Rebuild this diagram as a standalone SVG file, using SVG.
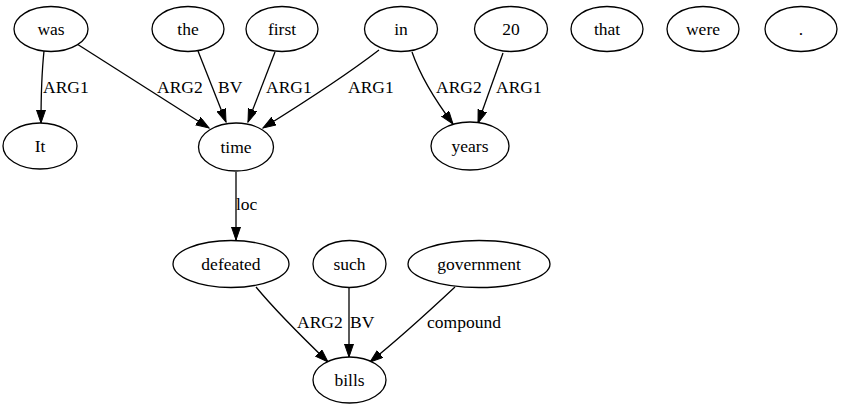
<svg xmlns="http://www.w3.org/2000/svg" width="843" height="411" viewBox="0 0 843 411">
<style>
.n ellipse{fill:#fff;stroke:#000;stroke-width:1.3}
.n text{font-family:'Liberation Serif',serif;font-size:17.5px;text-anchor:middle;fill:#000}
.e path{fill:none;stroke:#000;stroke-width:1.3;marker-end:url(#ah)}
.e text{font-family:'Liberation Serif',serif;font-size:17.5px;fill:#000}
</style>
<defs>
<marker id="ah" markerUnits="userSpaceOnUse" markerWidth="14" markerHeight="10" refX="13" refY="4.5" orient="auto">
<path d="M0,0 L13,4.5 L0,9 z" fill="#000" stroke="#000" stroke-width="1"/>
</marker>
</defs>
<rect width="843" height="411" fill="#fff"/>
<g id="edges" class="e">
<path d="M44,51 C42,70 41,92 41,123"/>
<text x="43" y="93">ARG1</text>
<path d="M77,44 L209,128"/>
<text x="157" y="93">ARG2</text>
<path d="M198,51 L226,122"/>
<text x="218" y="93">BV</text>
<path d="M275,52 L248,122"/>
<text x="266" y="93">ARG1</text>
<path d="M379,50 C340,80 300,105 263,128"/>
<text x="348" y="93">ARG1</text>
<path d="M412,52 C420,75 435,100 453,124"/>
<text x="436" y="93">ARG2</text>
<path d="M503,53 L478,123"/>
<text x="496" y="93">ARG1</text>
<path d="M236,172 L236,240"/>
<text x="236" y="210">loc</text>
<path d="M256,287 C275,310 300,335 328,362"/>
<text x="297" y="328">ARG2</text>
<path d="M349,287 L349,357"/>
<text x="350" y="328">BV</text>
<path d="M455,287 C425,315 400,338 370,362"/>
<text x="427" y="328">compound</text>
</g>
<g id="was" class="n"><ellipse cx="51" cy="29" rx="37" ry="22.5"/><text x="51" y="35">was</text></g>
<g id="the" class="n"><ellipse cx="188" cy="29" rx="36" ry="22.5"/><text x="188" y="35">the</text></g>
<g id="first" class="n"><ellipse cx="282" cy="29" rx="36" ry="22.5"/><text x="282" y="35">first</text></g>
<g id="in" class="n"><ellipse cx="401" cy="29" rx="36.5" ry="22.5"/><text x="401" y="35">in</text></g>
<g id="n20" class="n"><ellipse cx="511" cy="29" rx="36.5" ry="22.5"/><text x="511" y="35">20</text></g>
<g id="that" class="n"><ellipse cx="607" cy="29" rx="36" ry="22.5"/><text x="607" y="35">that</text></g>
<g id="were" class="n"><ellipse cx="703" cy="29" rx="36" ry="22.5"/><text x="703" y="35">were</text></g>
<g id="period" class="n"><ellipse cx="801" cy="29" rx="36" ry="22.5"/><text x="801" y="35">.</text></g>
<g id="It" class="n"><ellipse cx="40" cy="146" rx="37" ry="23"/><text x="40" y="152">It</text></g>
<g id="time" class="n"><ellipse cx="236" cy="147" rx="37.5" ry="24"/><text x="236" y="153">time</text></g>
<g id="years" class="n"><ellipse cx="470" cy="146" rx="39" ry="24"/><text x="470" y="152">years</text></g>
<g id="defeated" class="n"><ellipse cx="231" cy="264" rx="58" ry="23.5"/><text x="231" y="270">defeated</text></g>
<g id="such" class="n"><ellipse cx="349.5" cy="264" rx="36.5" ry="23.5"/><text x="349.5" y="270">such</text></g>
<g id="government" class="n"><ellipse cx="479" cy="264" rx="71" ry="23.5"/><text x="479" y="270">government</text></g>
<g id="bills" class="n"><ellipse cx="349.5" cy="380" rx="36.5" ry="23"/><text x="349.5" y="386">bills</text></g>
</svg>
